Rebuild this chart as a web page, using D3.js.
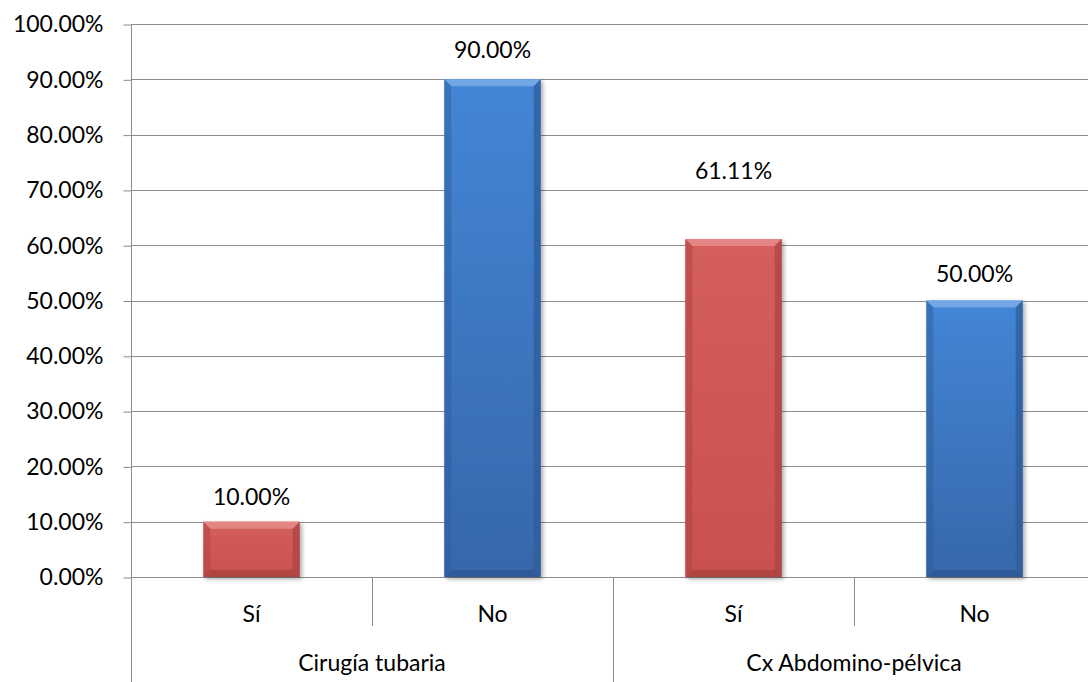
<!DOCTYPE html>
<html>
<head>
<meta charset="utf-8">
<script src="https://cdn.jsdelivr.net/npm/d3@7"></script>
<style>
  html, body { margin: 0; padding: 0; background: #fff; }
  svg { display: block; font-family: Lato, "Open Sans", "Noto Sans", sans-serif; }
</style>
</head>
<body>
<svg id="chart" width="1088" height="682"></svg>
<script>
// Categories (answers) and their groups
const categories = ["Sí", "No", "Sí", "No"];
const groups = ["Cirugía tubaria", "Cx Abdomino-pélvica"];
const values = [0.10, 0.90, 0.6111, 0.50];
const seriesKind = ["si", "no", "si", "no"];
const yTicks = [0, 0.1, 0.2, 0.3, 0.4, 0.5, 0.6, 0.7, 0.8, 0.9, 1.0];

(function () {
const svg = d3.select("#chart");
const W = 1088, H = 682;
const plotLeft = 131, plotRight = 1095, plotTop = 24, plotBottom = 577;
const fontSize = 23;

const x = d3.scaleBand()
  .domain(d3.range(categories.length))
  .range([plotLeft, plotRight])
  .paddingInner(0.6)
  .paddingOuter(0.3);
const y = d3.scaleLinear().domain([0, 1]).range([plotBottom, plotTop]);

const palette = {
  si: { top: "#e58a87", face0: "#d45e5b", face1: "#c9514e", side: "#a94341", bottom: "#9a3a38" },
  no: { top: "#78aae6", face0: "#4386d6", face1: "#3767aa", side: "#2d5a98", bottom: "#28508a" }
};

const defs = svg.append("defs");
const shadow = defs.append("filter").attr("id", "shadow")
  .attr("x", "-20%").attr("y", "-20%").attr("width", "140%").attr("height", "140%");
shadow.append("feDropShadow").attr("dx", 2).attr("dy", 2)
  .attr("stdDeviation", 2).attr("flood-color", "#000").attr("flood-opacity", 0.35);

Object.entries(palette).forEach(([k, c]) => {
  const g = defs.append("linearGradient").attr("id", "face-" + k)
    .attr("x1", 0).attr("y1", 0).attr("x2", 0).attr("y2", 1);
  g.append("stop").attr("offset", "0%").attr("stop-color", c.face0);
  g.append("stop").attr("offset", "100%").attr("stop-color", c.face1);
});

// Horizontal gridlines
svg.append("g").selectAll("line").data(yTicks).join("line")
  .attr("x1", plotLeft).attr("x2", W)
  .attr("y1", d => Math.round(y(d)) + 0.5).attr("y2", d => Math.round(y(d)) + 0.5)
  .attr("stroke", "#8c8c8c").attr("stroke-width", 1);

// Y axis
const yAxis = d3.axisLeft(y).tickValues(yTicks).tickSize(8).tickPadding(20)
  .tickFormat(d => (d * 100).toFixed(2) + "%");
const yg = svg.append("g").attr("transform", `translate(${plotLeft + 0.5},0.5)`).call(yAxis);
yg.select(".domain").remove();
yg.selectAll(".tick line").attr("stroke", "#8c8c8c");
yg.selectAll(".tick text").attr("font-size", fontSize).attr("fill", "#000")
  .attr("font-family", "Lato, 'Open Sans', sans-serif");
svg.append("line").attr("x1", plotLeft + 0.5).attr("x2", plotLeft + 0.5)
  .attr("y1", plotTop).attr("y2", H).attr("stroke", "#8c8c8c");

// Category separators below the axis
const step = x.step();
d3.range(categories.length + 1).forEach(i => {
  const xx = Math.round(plotLeft + i * step) + 0.5;
  const long = i % 2 === 0;
  svg.append("line").attr("x1", xx).attr("x2", xx)
    .attr("y1", plotBottom).attr("y2", long ? H : 626)
    .attr("stroke", "#8c8c8c");
});

// Bars with bevelled edges
const bv = 7;
const bars = svg.append("g").selectAll("g").data(values).join("g")
  .attr("filter", "url(#shadow)");
bars.each(function (v, i) {
  const g = d3.select(this);
  const c = palette[seriesKind[i]];
  const x0 = x(i), x1 = x(i) + x.bandwidth();
  const y0 = y(v), y1 = y(0);
  g.append("rect").attr("x", x0).attr("y", y0).attr("width", x1 - x0).attr("height", y1 - y0)
    .attr("fill", `url(#face-${seriesKind[i]})`);
  const poly = (pts, fill, op) => g.append("polygon")
    .attr("points", pts.map(p => p.join(",")).join(" ")).attr("fill", fill).attr("opacity", op);
  poly([[x0, y0], [x1, y0], [x1 - bv, y0 + bv], [x0 + bv, y0 + bv]], c.top, 0.9);
  poly([[x0, y0], [x0 + bv, y0 + bv], [x0 + bv, y1 - bv], [x0, y1]], c.side, 0.45);
  poly([[x1, y0], [x1, y1], [x1 - bv, y1 - bv], [x1 - bv, y0 + bv]], c.side, 0.7);
  poly([[x0, y1], [x0 + bv, y1 - bv], [x1 - bv, y1 - bv], [x1, y1]], c.bottom, 0.55);
});

// Value labels
const labelLift = [25, 29, 68, 27];
svg.append("g").selectAll("text").data(values).join("text")
  .attr("x", (d, i) => x(i) + x.bandwidth() / 2)
  .attr("y", (d, i) => y(d) - labelLift[i])
  .attr("dy", "0.35em")
  .attr("text-anchor", "middle").attr("font-size", fontSize).attr("fill", "#000")
  .text(d => (d * 100).toFixed(2) + "%");

// Category labels
svg.append("g").selectAll("text").data(categories).join("text")
  .attr("x", (d, i) => x(i) + x.bandwidth() / 2)
  .attr("y", 614).attr("dy", "0.35em")
  .attr("text-anchor", "middle").attr("font-size", fontSize).attr("fill", "#000")
  .text(d => d);

// Group labels
svg.append("g").selectAll("text").data(groups).join("text")
  .attr("x", (d, i) => plotLeft + (2 * i + 1) * step)
  .attr("y", 663).attr("dy", "0.35em")
  .attr("text-anchor", "middle").attr("font-size", fontSize).attr("fill", "#000")
  .text(d => d);
})();
</script>
</body>
</html>
